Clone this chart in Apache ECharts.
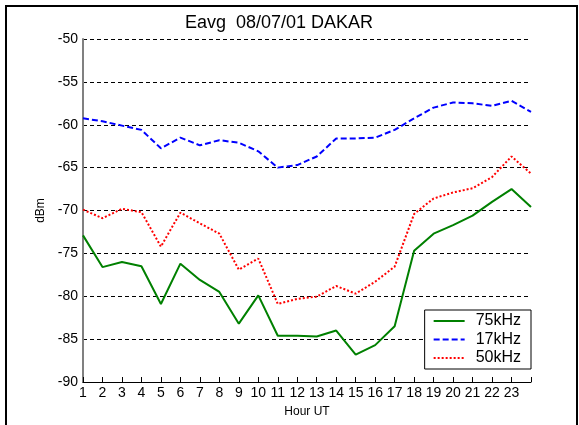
<!DOCTYPE html>
<html>
<head>
<meta charset="utf-8">
<script src="https://cdn.jsdelivr.net/npm/echarts@6/dist/echarts.min.js"></script>
<style>
  html, body { margin: 0; padding: 0; background: #fff; }
  #chart { width: 579px; height: 425px; }
</style>
</head>
<body>
<div id="chart"></div>
<script>
// hours 1..24 (label for 24 is not shown)
const hours = [1, 2, 3, 4, 5, 6, 7, 8, 9, 10, 11, 12, 13, 14, 15, 16, 17, 18, 19, 20, 21, 22, 23, 24]

const khz75 = [-72.9, -76.6, -76.0, -76.5, -80.9, -76.2, -78.1, -79.5, -83.2, -79.9, -84.6, -84.6,
  -84.7, -84.0, -86.8, -85.7, -83.5, -74.7, -72.7, -71.7, -70.6, -69.0, -67.5, -69.6]
const khz17 = [-59.25, -59.6, -60.1, -60.6, -62.75, -61.5, -62.4, -61.8, -62.1, -63.1, -65.0, -64.7,
  -63.7, -61.6, -61.6, -61.5, -60.6, -59.25, -58.0, -57.4, -57.5, -57.8, -57.2, -58.5]
const khz50 = [-69.9, -70.9, -69.8, -70.2, -74.2, -70.25, -71.5, -72.7, -76.9, -75.6, -80.9, -80.3,
  -80.05, -78.8, -79.7, -78.3, -76.55, -70.4, -68.6, -67.9, -67.4, -66.1, -63.7, -65.7]

const FONT = 'Liberation Sans, Arial, sans-serif'

const pairs = (vals) => hours.map((h, i) => [h, vals[i]])

const chart = echarts.init(document.getElementById('chart'))

const option = {
  animation: false,
  backgroundColor: '#fff',
  title: {
    text: 'Eavg  08/07/01 DAKAR',
    left: 274,
    top: 9,
    textAlign: 'center',
    textStyle: { fontFamily: FONT, fontSize: 18, fontWeight: 'normal', color: '#000' }
  },
  graphic: [
    {
      type: 'polyline',
      shape: { points: [[6, 425], [6, 6], [577, 6], [577, 425]] },
      style: { stroke: '#000', lineWidth: 2, fill: null },
      silent: true
    }
  ],
  grid: { left: 83, right: 48, top: 39, bottom: 43 },
  legend: {
    orient: 'vertical',
    right: 48,
    top: 310,
    padding: [3, 10, 3, 8],
    itemGap: 2.5,
    itemWidth: 31,
    itemHeight: 14,
    borderColor: '#000',
    borderWidth: 1,
    backgroundColor: '#fff',
    itemStyle: { opacity: 0 },
    textStyle: { fontFamily: FONT, fontSize: 16, lineHeight: 16, color: '#000', padding: [0, 0, 0, 6] },
    data: ['75kHz', '17kHz', '50kHz']
  },
  xAxis: {
    type: 'value',
    min: 1,
    max: 24,
    interval: 1,
    name: 'Hour UT',
    nameLocation: 'middle',
    nameGap: 24,
    nameTextStyle: { fontFamily: FONT, fontSize: 12, color: '#000' },
    axisLine: { lineStyle: { color: '#000', width: 1 } },
    axisTick: { inside: true, length: 5, lineStyle: { color: '#000' } },
    axisLabel: {
      fontFamily: FONT,
      fontSize: 14,
      color: '#000',
      margin: 4,
      formatter: (v) => (v === 24 ? '' : String(v))
    },
    splitLine: { show: false }
  },
  yAxis: {
    type: 'value',
    min: -90,
    max: -50,
    interval: 5,
    name: 'dBm',
    nameLocation: 'middle',
    nameGap: 36,
    nameTextStyle: { fontFamily: FONT, fontSize: 12, color: '#000' },
    axisLine: { show: true, lineStyle: { color: '#808080', width: 2 } },
    axisTick: { show: false },
    axisLabel: { fontFamily: FONT, fontSize: 14, color: '#000', margin: 5 },
    splitLine: { show: true, lineStyle: { color: '#000', type: [4, 3], width: 1 } }
  },
  series: [
    {
      name: '75kHz',
      type: 'line',
      symbol: 'none',
      color: '#008000',
      lineStyle: { width: 2, color: '#008000' },
      data: pairs(khz75)
    },
    {
      name: '17kHz',
      type: 'line',
      symbol: 'none',
      color: '#0000ff',
      lineStyle: { width: 2, color: '#0000ff', type: [6, 3] },
      data: pairs(khz17)
    },
    {
      name: '50kHz',
      type: 'line',
      symbol: 'none',
      color: '#ff0000',
      lineStyle: { width: 2, color: '#ff0000', type: [2, 2] },
      data: pairs(khz50)
    }
  ]
}

chart.setOption(option)
</script>
</body>
</html>
